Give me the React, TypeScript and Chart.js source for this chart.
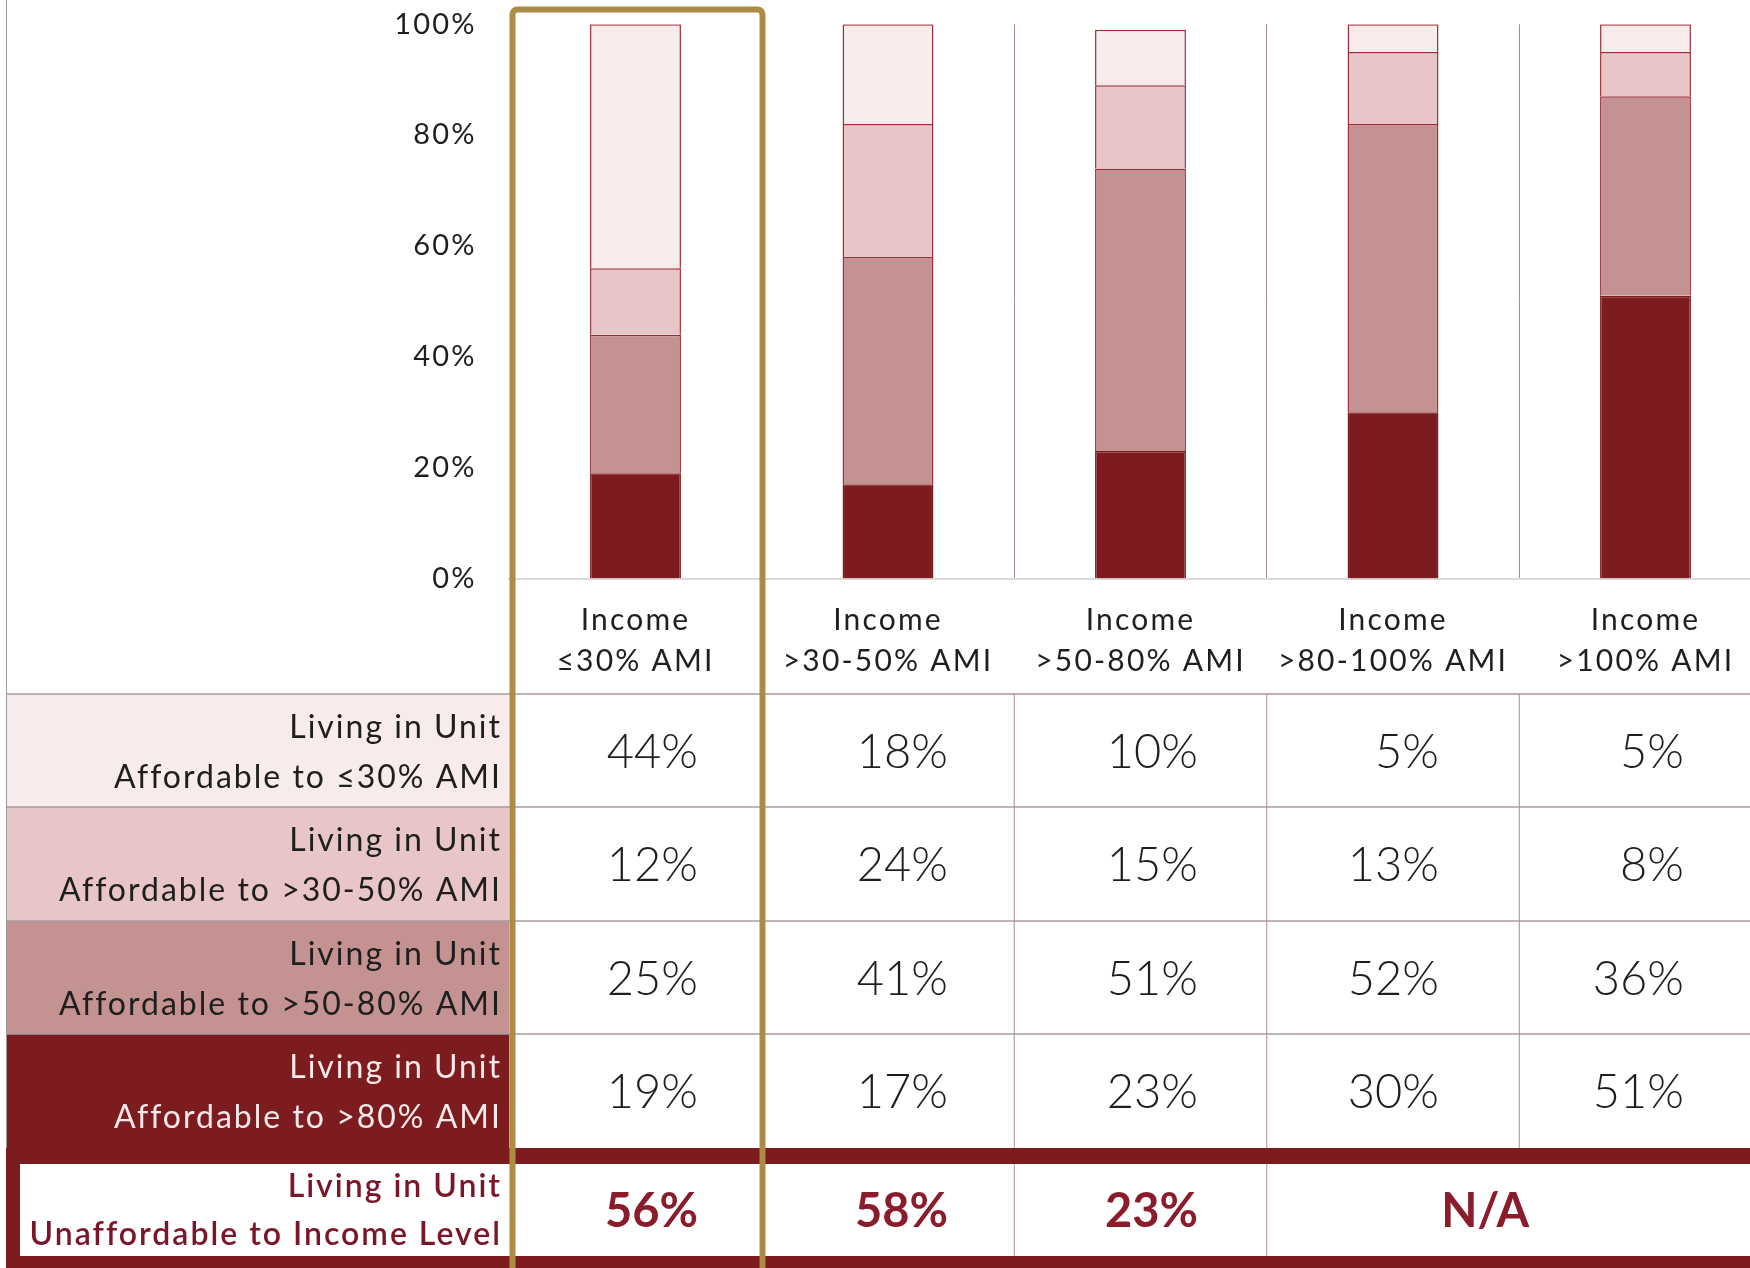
import { useEffect, useRef } from 'react';
import { Chart, registerables } from 'chart.js';

Chart.register(...registerables);

// ---- data ----
const incomeGroups = ['≤30% AMI', '>30-50% AMI', '>50-80% AMI', '>80-100% AMI', '>100% AMI'];
const affordableTo30 = [44, 18, 10, 5, 5];
const affordableTo30to50 = [12, 24, 15, 13, 8];
const affordableTo50to80 = [25, 41, 51, 52, 36];
const affordableAbove80 = [19, 17, 23, 30, 51];
const unaffordableShare: (number | null)[] = [56, 58, 23, null, null];
const yTickValues = [0, 20, 40, 60, 80, 100];

const rowPrefix = 'Living in Unit';
const unitRowLabels = [
  'Affordable to ≤30% AMI',
  'Affordable to >30-50% AMI',
  'Affordable to >50-80% AMI',
  'Affordable to >80% AMI',
];
const unitRowValues = [affordableTo30, affordableTo30to50, affordableTo50to80, affordableAbove80];
const summaryLabel = 'Unaffordable to Income Level';
const notApplicable = 'N/A';

// ---- styles & layout ----
const FONT = 'Lato, "Noto Sans", sans-serif';
const MAROON = '#7D1C1E';
const ROW_FILLS = ['#F8EBEB', '#E8C6C7', '#C49391', MAROON];
const SEGMENT_BORDER = '#A02D3A';
const GOLD = '#AE8B45';
const CANVAS_W = 1800;
const CANVAS_H = 1268;
const PLOT_LEFT = 509.25;
const PLOT_RIGHT = 1771.75;
const PLOT_TOP = 24.3;
const PLOT_BOTTOM = 578.5;
const LABEL_LEFT = 6;
const LABEL_RIGHT = 500;
const ROW_EDGES = [694, 807, 921, 1034, 1148];
const BAND_BOTTOM = 1164;
const SUMMARY_BOTTOM = 1256;
const VALUE_OFFSETS = [62.5, 60, 57.5, 46, 38.5];
const AXIS_TRACKING = 2.2;
const LABEL_TRACKING = 2;

const pct = (v: number) => `${v}%`;

const tablePlugin = {
  id: 'affordabilityTable',
  beforeDraw(chart: any) {
    chart.ctx.letterSpacing = `${AXIS_TRACKING}px`;
  },
  afterDraw(chart: any) {
    const { ctx, chartArea } = chart;
    const xs = chart.scales.x;
    const W = chart.width;
    const H = chart.height;
    const n = incomeGroups.length;
    const colW = (chartArea.right - chartArea.left) / n;
    const centers = incomeGroups.map((_, i) => xs.getPixelForValue(i));
    const edges = [...centers.map((c: number) => c - colW / 2), centers[n - 1] + colW / 2];

    ctx.save();
    ctx.letterSpacing = '0px';

    // row label backgrounds (colour key for the stacked segments)
    unitRowLabels.forEach((_, r) => {
      ctx.fillStyle = ROW_FILLS[r];
      ctx.fillRect(LABEL_LEFT, ROW_EDGES[r], edges[0] - LABEL_LEFT, ROW_EDGES[r + 1] - ROW_EDGES[r]);
    });

    const line = (x1: number, y1: number, x2: number, y2: number) => {
      ctx.beginPath();
      ctx.moveTo(x1, y1);
      ctx.lineTo(x2, y2);
      ctx.stroke();
    };

    // horizontal rules
    ctx.strokeStyle = '#A99A9E';
    ctx.lineWidth = 1.5;
    for (let r = 0; r < 4; r++) line(LABEL_LEFT, ROW_EDGES[r], W, ROW_EDGES[r]);

    // vertical rules between value columns
    ctx.strokeStyle = '#A68C92';
    ctx.lineWidth = 1;
    for (let c = 2; c < n; c++) {
      line(edges[c], ROW_EDGES[0], edges[c], ROW_EDGES[4]);
      if (unaffordableShare[c] !== null || unaffordableShare[c - 1] !== null) {
        line(edges[c], BAND_BOTTOM, edges[c], SUMMARY_BOTTOM);
      }
    }

    // left border
    ctx.strokeStyle = '#9C9C9C';
    line(LABEL_LEFT + 0.5, 0, LABEL_LEFT + 0.5, ROW_EDGES[4]);

    // maroon frame around the summary row
    ctx.fillStyle = MAROON;
    ctx.fillRect(LABEL_LEFT, ROW_EDGES[4], W, BAND_BOTTOM - ROW_EDGES[4]);
    ctx.fillRect(LABEL_LEFT, ROW_EDGES[4], 14, H - ROW_EDGES[4]);
    ctx.fillRect(LABEL_LEFT, SUMMARY_BOTTOM, W, H - SUMMARY_BOTTOM);

    // row labels
    ctx.textAlign = 'right';
    ctx.textBaseline = 'alphabetic';
    ctx.letterSpacing = `${LABEL_TRACKING}px`;
    ctx.font = `400 32px ${FONT}`;
    const lx = LABEL_RIGHT + LABEL_TRACKING;
    unitRowLabels.forEach((label, r) => {
      const mid = (ROW_EDGES[r] + ROW_EDGES[r + 1]) / 2;
      ctx.fillStyle = r === 3 ? '#F7E9E9' : '#1E1E1E';
      ctx.fillText(rowPrefix, lx, mid - 13);
      ctx.fillText(label, lx, mid + 37);
    });
    const sumMid = (BAND_BOTTOM + SUMMARY_BOTTOM) / 2;
    ctx.font = `600 32px ${FONT}`;
    ctx.fillStyle = '#7B1528';
    ctx.fillText(rowPrefix, lx, sumMid - 13);
    ctx.fillText(summaryLabel, lx, sumMid + 35);

    // values
    ctx.letterSpacing = '0px';
    ctx.font = `300 47px ${FONT}`;
    ctx.fillStyle = '#1E1E1E';
    unitRowValues.forEach((vals, r) => {
      const mid = (ROW_EDGES[r] + ROW_EDGES[r + 1]) / 2;
      vals.forEach((v, c) => {
        ctx.fillText(pct(v), centers[c] + VALUE_OFFSETS[c], mid + 17);
      });
    });
    ctx.font = `700 47px ${FONT}`;
    ctx.fillStyle = '#8A1C2C';
    unaffordableShare.forEach((v, c) => {
      if (v !== null) ctx.fillText(pct(v), centers[c] + VALUE_OFFSETS[c], sumMid + 17);
    });
    ctx.textAlign = 'center';
    ctx.fillText(notApplicable, (centers[3] + centers[4]) / 2 - 34, sumMid + 17);

    // highlight box around the lowest income group
    ctx.strokeStyle = GOLD;
    ctx.lineWidth = 6;
    ctx.beginPath();
    const gx = edges[0] + 3.25;
    ctx.roundRect(gx, 9.5, edges[1] + 0.75 - gx, H + 20, 5);
    ctx.stroke();

    ctx.restore();
    ctx.letterSpacing = '0px';
  },
};

export default function App() {
  const ref = useRef<HTMLCanvasElement | null>(null);

  useEffect(() => {
    if (!ref.current) return;
    const bar = (label: string, data: number[], color: string, border: string) => ({
      label,
      data,
      backgroundColor: color,
      borderColor: border,
      borderWidth: 1.5,
      categoryPercentage: 1,
      barPercentage: 0.36,
    });
    const chart = new Chart(ref.current, {
      type: 'bar',
      data: {
        labels: incomeGroups.map((g) => ['Income', g]),
        datasets: [
          bar(unitRowLabels[3], affordableAbove80, ROW_FILLS[3], ROW_FILLS[3]),
          bar(unitRowLabels[2], affordableTo50to80, ROW_FILLS[2], SEGMENT_BORDER),
          bar(unitRowLabels[1], affordableTo30to50, ROW_FILLS[1], SEGMENT_BORDER),
          bar(unitRowLabels[0], affordableTo30, ROW_FILLS[0], SEGMENT_BORDER),
        ],
      },
      options: {
        responsive: false,
        animation: false,
        devicePixelRatio: 1,
        layout: { padding: { top: PLOT_TOP, right: CANVAS_W - PLOT_RIGHT, left: 0, bottom: 0 } },
        plugins: { legend: { display: false }, tooltip: { enabled: false } },
        scales: {
          x: {
            stacked: true,
            offset: true,
            grid: {
              display: true,
              offset: true,
              drawTicks: false,
              lineWidth: 1,
              color: (c: any) => (c.index < 2 ? 'rgba(0,0,0,0)' : '#A7888E'),
            },
            border: { display: true, color: '#DADADA', width: 2 },
            ticks: {
              autoSkip: false,
              maxRotation: 0,
              padding: 22,
              color: '#1F1F1F',
              font: { family: FONT, size: 30, lineHeight: 1.35 },
            },
            afterFit: (s: any) => {
              s.height = CANVAS_H - PLOT_BOTTOM;
            },
          },
          y: {
            stacked: true,
            min: 0,
            max: 100,
            grid: { display: false, drawTicks: false },
            border: { display: false },
            ticks: {
              padding: PLOT_LEFT - 474.5 - AXIS_TRACKING,
              color: '#1F1F1F',
              font: { family: FONT, size: 29 },
              callback: (v: any) => pct(Number(v)),
            },
            afterBuildTicks: (s: any) => {
              s.ticks = yTickValues.map((v) => ({ value: v }));
            },
            afterFit: (s: any) => {
              s.width = PLOT_LEFT;
              s.paddingTop = 0;
              s.paddingBottom = 0;
            },
          },
        },
      },
      plugins: [tablePlugin],
    } as any);
    return () => chart.destroy();
  }, []);

  return (
    <div
      style={{
        position: 'absolute',
        left: 0,
        top: 0,
        width: 1750,
        height: 1268,
        overflow: 'hidden',
        background: '#ffffff',
      }}
    >
      <canvas ref={ref} width={CANVAS_W} height={CANVAS_H} style={{ display: 'block', width: CANVAS_W, height: CANVAS_H }} />
    </div>
  );
}
